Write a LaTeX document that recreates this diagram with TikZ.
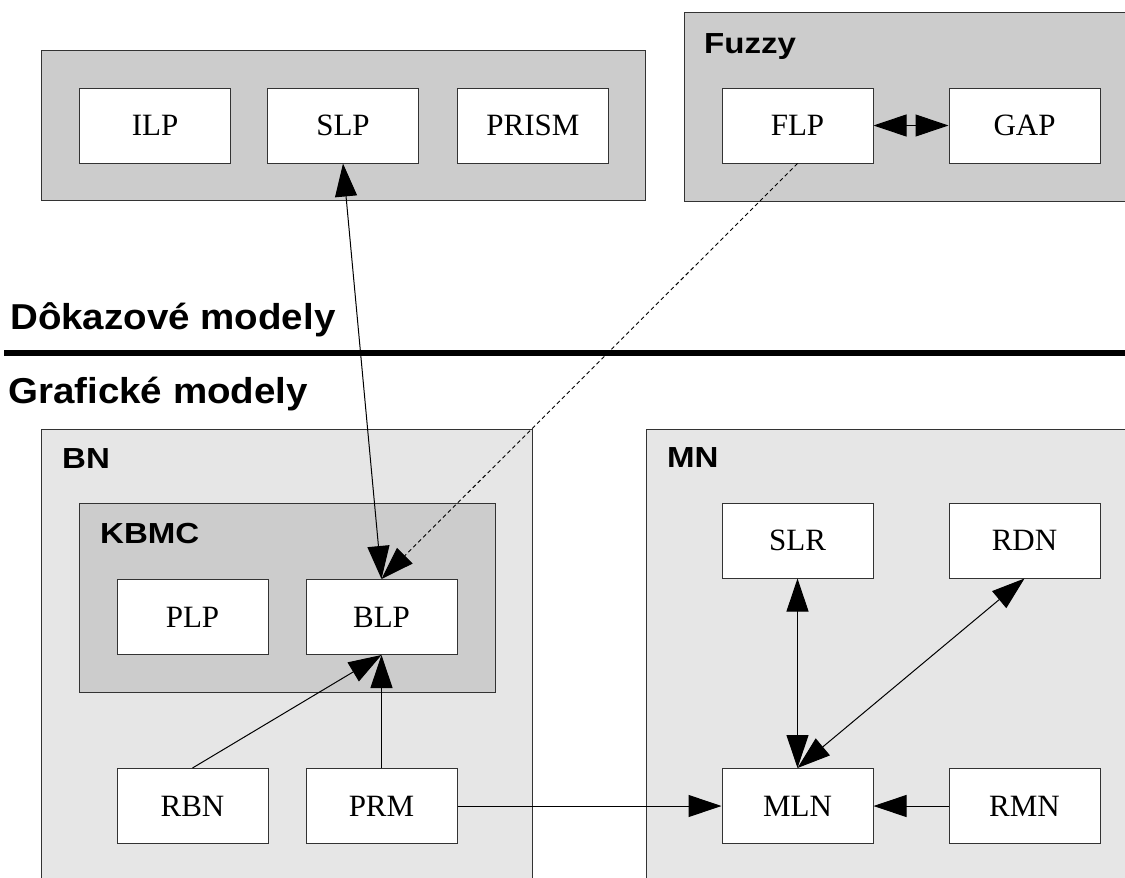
\documentclass[tikz,border=0pt]{standalone}
\usepackage{fontspec}
\setmainfont{Liberation Serif}
\newfontfamily\headfont[FakeStretch=1.07]{Liberation Sans}
\newfontfamily\grpfont[FakeStretch=1.14]{Liberation Sans}
\usetikzlibrary{arrows.meta}
\definecolor{grpdark}{HTML}{CCCCCC}
\definecolor{grplight}{HTML}{E6E6E6}
\definecolor{edge}{HTML}{333333}
\begin{document}
\begin{tikzpicture}[x=1pt,y=-1pt,
  >={Triangle[length=33pt,width=22pt]},
  grpbox/.style={draw=edge,line width=1pt},
  modelbox/.style={draw=edge,fill=white,line width=1pt,inner sep=0pt,
    minimum width=151pt,minimum height=75pt,
    font=\fontsize{31}{36}\selectfont},
  grplabel/.style={anchor=base west,inner sep=0pt,
    font=\grpfont\bfseries\fontsize{29}{33}\selectfont},
  headlabel/.style={anchor=base west,inner sep=0pt,
    font=\headfont\bfseries\fontsize{36}{40}\selectfont},
  link/.style={black,line width=1pt},
  weak/.style={black,line width=0.9pt,dash pattern=on 4pt off 3pt}]
\useasboundingbox (0,0) rectangle (1125,878);
\fill[white] (0,0) rectangle (1125,878);

% group frames
\draw[grpbox,fill=grpdark] (41.5,50) rectangle (645.5,200);
\draw[grpbox,fill=grpdark] (684,12) rectangle (1135,201);
\draw[grpbox,fill=grplight] (41.5,429) rectangle (532.5,890);
\draw[grpbox,fill=grplight] (646,429) rectangle (1135,890);
\draw[grpbox,fill=grpdark] (79,503) rectangle (495,692);

% group titles
\node[grplabel] (tfuzzy) at (704,53) {Fuzzy};
\node[grplabel] (tbn) at (62,468) {BN};
\node[grplabel] (tmn) at (667,467) {MN};
\node[grplabel] (tkbmc) at (100,543) {KBMC};

% section divider
\node[headlabel] (tproof) at (10,329) {Dôkazové modely};
\node[headlabel] (tgraph) at (8,403) {Grafické modely};
\coordinate (divl) at (4,353);
\coordinate (divr) at (1125,353);
\draw[line width=6pt] (divl) -- (divr);

% model boxes
\node[modelbox] (ILP) at (155,125.5) {ILP};
\node[modelbox] (SLP) at (343,125.5) {SLP};
\node[modelbox] (PRISM) at (533,125.5) {PRISM};
\node[modelbox] (FLP) at (797.5,125.5) {FLP};
\node[modelbox] (GAP) at (1024.5,125.5) {GAP};
\node[modelbox] (PLP) at (192.5,617) {PLP};
\node[modelbox] (BLP) at (381.5,617) {BLP};
\node[modelbox] (SLR) at (797.5,540.5) {SLR};
\node[modelbox] (RDN) at (1024.5,540.5) {RDN};
\node[modelbox] (RBN) at (192.5,806) {RBN};
\node[modelbox] (PRM) at (381.5,806) {PRM};
\node[modelbox] (MLN) at (797.5,806) {MLN};
\node[modelbox] (RMN) at (1024.5,806) {RMN};

% connectors
\draw[link,<->] (FLP.east) -- (GAP.west);
\draw[link,<->] (SLP.south) -- (BLP.north);
\draw[weak,->] (FLP.south) -- (BLP.north);
\draw[link,->] (RBN.north) -- (BLP.south);
\draw[link,->] (PRM.north) -- (BLP.south);
\draw[link,->] (PRM.east) -- (MLN.west);
\draw[link,->] (RMN.west) -- (MLN.east);
\draw[link,<->] (SLR.south) -- (MLN.north);
\draw[link,<->] (RDN.south) -- (MLN.north);
\end{tikzpicture}
\end{document}
